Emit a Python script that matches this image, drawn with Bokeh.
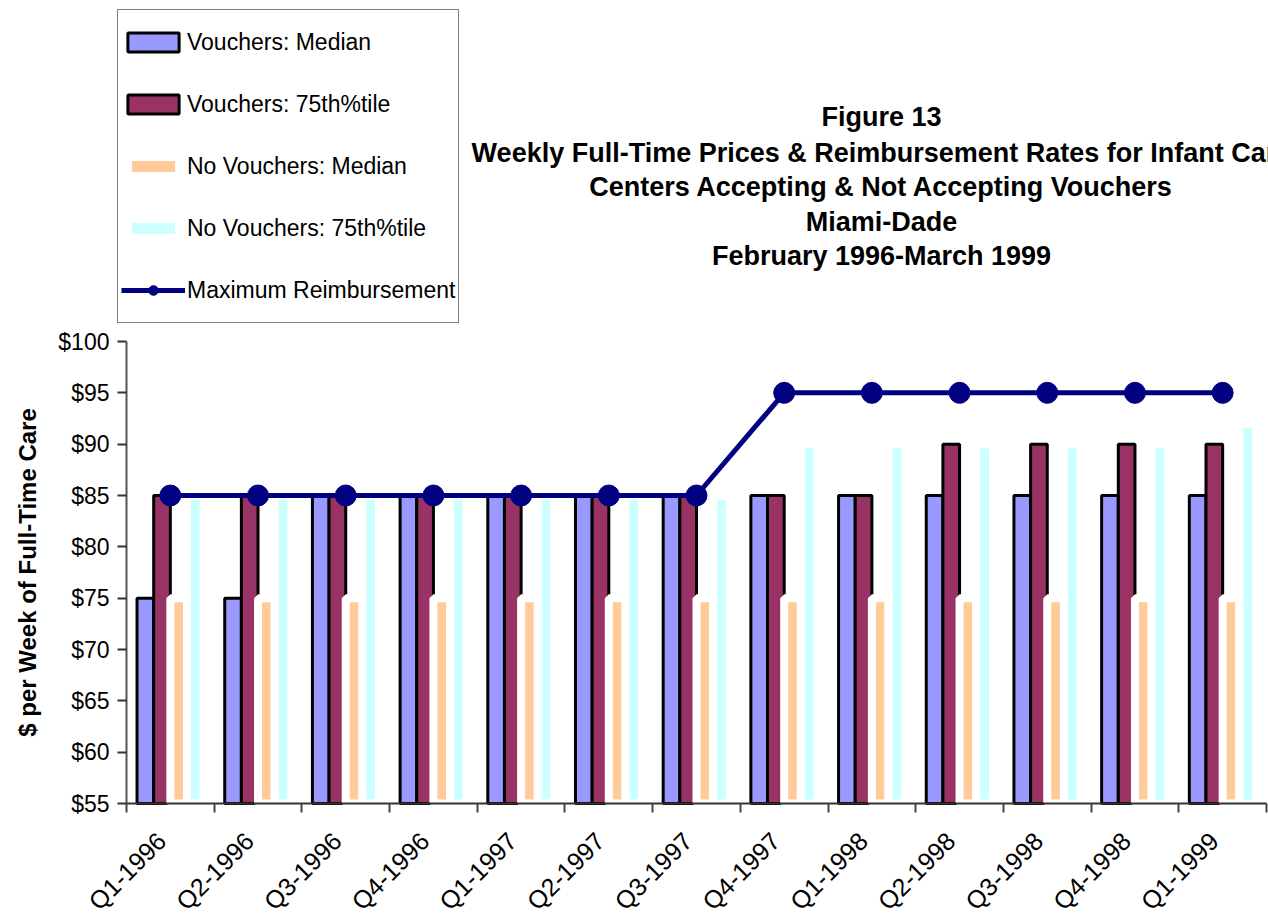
from math import pi
from bokeh.plotting import figure
from bokeh.models import (Range1d, FixedTicker, NumeralTickFormatter, Legend,
                          LegendItem, Label, LinearAxis)
from bokeh.embed import file_html
from bokeh.resources import INLINE

# ---------------- data ----------------
quarters = ["Q1-1996", "Q2-1996", "Q3-1996", "Q4-1996", "Q1-1997", "Q2-1997",
            "Q3-1997", "Q4-1997", "Q1-1998", "Q2-1998", "Q3-1998", "Q4-1998",
            "Q1-1999"]
vouchers_median = [75, 75, 85, 85, 85, 85, 85, 85, 85, 85, 85, 85, 85]
vouchers_p75 = [85, 85, 85, 85, 85, 85, 85, 85, 85, 90, 90, 90, 90]
novouchers_median = [75, 75, 75, 75, 75, 75, 75, 75, 75, 75, 75, 75, 75]
novouchers_p75 = [85, 85, 85, 85, 85, 85, 85, 90, 90, 90, 90, 90, 92]
max_reimbursement = [85, 85, 85, 85, 85, 85, 85, 95, 95, 95, 95, 95, 95]
y_ticks = [55, 60, 65, 70, 75, 80, 85, 90, 95, 100]
title_lines = ["Figure 13",
               "Weekly Full-Time Prices & Reimbursement Rates for Infant Care",
               "Centers Accepting & Not Accepting Vouchers",
               "Miami-Dade",
               "February 1996-March 1999"]
y_title = "$ per Week of Full-Time Care"

FONT = "Liberation Sans"
n = len(quarters)
centers = [i + 0.5 for i in range(n)]
bw = 0.19
Y0, Y1 = 55, 100

# ---------------- geometry (frame covers the whole canvas) ----------------
W, H = 1268, 923
AX_L, AX_R = 126, 1266        # page px of category 0 and category n
AX_T, AX_B = 341, 803         # page px of $100 and $55
kx = (AX_R - AX_L) / n
ky = (AX_B - AX_T) / (Y1 - Y0)
x_start = -AX_L / kx
x_end = n + (W - AX_R) / kx
y_start = Y0 - (H - AX_B) / ky
y_end = Y1 + AX_T / ky

def px_x(px):
    return x_start + px / kx
def px_y(py):
    return y_end - py / ky

p = figure(width=W, height=H, x_range=Range1d(x_start, x_end),
           y_range=Range1d(y_start, y_end),
           output_backend="svg", toolbar_location=None,
           x_axis_location=None, y_axis_location=None,
           min_border=0)
p.title.visible = False
p.outline_line_color = None
p.xgrid.visible = False
p.ygrid.visible = False
p.background_fill_color = "white"
p.border_fill_color = "white"

def xs(off):
    return [c + off for c in centers]

r1 = p.vbar(x=xs(-1.5 * bw), top=vouchers_median, bottom=Y0, width=bw,
            fill_color="#9999FF", line_color="black", line_width=3)
r2 = p.vbar(x=xs(-0.5 * bw), top=vouchers_p75, bottom=Y0, width=bw,
            fill_color="#993366", line_color="black", line_width=3)
r3 = p.vbar(x=xs(0.5 * bw), top=novouchers_median, bottom=Y0, width=bw,
            fill_color="#FFCC99", line_color="white", line_width=8)
r4 = p.vbar(x=xs(1.5 * bw), top=novouchers_p75, bottom=Y0, width=bw,
            fill_color="#CCFFFF", line_color="white", line_width=8)
rl = p.line(x=centers, y=max_reimbursement, line_color="#000080", line_width=5)
rs = p.scatter(x=centers, y=max_reimbursement, size=21, fill_color="#000080",
               line_color="#000080")

# axes, fixed inside the frame
yax = LinearAxis(fixed_location=0, bounds=(Y0, Y1))
yax.ticker = FixedTicker(ticks=y_ticks, minor_ticks=[])
yax.formatter = NumeralTickFormatter(format="$0")
yax.major_label_text_font = FONT
yax.major_label_text_font_size = "23px"
yax.major_label_text_color = "black"
yax.major_label_standoff = 8
yax.major_tick_out = 9
yax.major_tick_in = 0
yax.axis_line_color = "#555555"
yax.axis_line_width = 2
yax.major_tick_line_color = "#333333"
yax.major_tick_line_width = 2
p.add_layout(yax, "left")

label_shift = -0.1   # category labels sit slightly left of the slot centre
label_pos = [c + label_shift for c in centers]
xax = LinearAxis(fixed_location=Y0, bounds=(0, n))
xax.ticker = FixedTicker(ticks=label_pos, minor_ticks=list(range(n + 1)))
xax.major_label_overrides = {c: q for c, q in zip(label_pos, quarters)}
xax.major_label_orientation = pi / 4
xax.major_label_text_font = FONT
xax.major_label_text_font_size = "25px"
xax.major_label_text_color = "black"
xax.major_label_standoff = 24
xax.major_tick_line_color = None
xax.major_tick_out = 0
xax.major_tick_in = 0
xax.minor_tick_out = 9
xax.minor_tick_in = 0
xax.minor_tick_line_color = "#444444"
xax.minor_tick_line_width = 2
xax.axis_line_color = "#333333"
xax.axis_line_width = 2
p.add_layout(xax, "below")

# y-axis title
p.add_layout(Label(x=px_x(27), y=(Y0 + Y1) / 2, text=y_title, angle=pi / 2,
                   text_align="center", text_baseline="middle",
                   text_font=FONT, text_font_style="bold",
                   text_font_size="24px", text_color="black"))

# chart title lines
title_y_px = [116, 152, 186, 221, 255]
for txt, ypx in zip(title_lines, title_y_px):
    p.add_layout(Label(x=px_x(881), y=px_y(ypx), text=txt,
                       text_align="center", text_baseline="middle",
                       text_font=FONT, text_font_style="bold",
                       text_font_size="27px", text_color="black"))

legend = Legend(items=[
    LegendItem(label="Vouchers: Median", renderers=[r1]),
    LegendItem(label="Vouchers: 75th%tile", renderers=[r2]),
    LegendItem(label="No Vouchers: Median", renderers=[r3]),
    LegendItem(label="No Vouchers: 75th%tile", renderers=[r4]),
    LegendItem(label="Maximum Reimbursement", renderers=[rl, rs]),
], location=(117, H - 323), orientation="vertical",
    border_line_color="black", border_line_width=1,
    background_fill_color="white", background_fill_alpha=1.0,
    label_text_font=FONT, label_text_font_size="23px",
    label_text_color="black",
    glyph_width=64, glyph_height=24, label_height=58,
    spacing=4, padding=3, label_standoff=2, margin=0)
p.add_layout(legend)

open("out.html", "w").write(file_html(p, INLINE))
